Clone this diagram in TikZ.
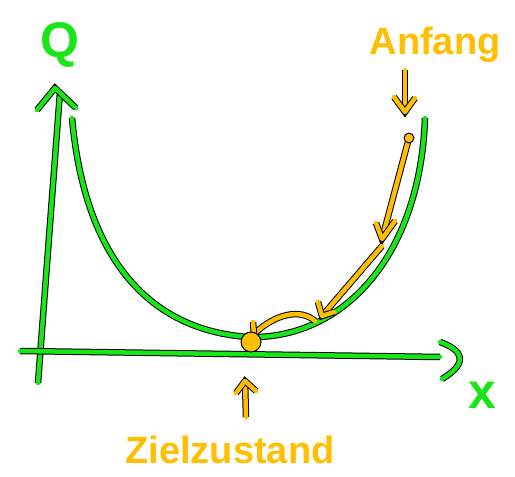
\documentclass[tikz,border=0pt]{standalone}
\usepackage{fontspec}
\setmainfont{Liberation Sans}
\definecolor{pgreen}{RGB}{24,230,24}
\definecolor{porange}{RGB}{255,190,0}
\begin{document}
\begin{tikzpicture}[x=1pt,y=-1pt,
  greenline/.style={line width=4.5pt,draw=pgreen,line cap=round,line join=round,
    preaction={draw=black,line width=6.5pt}},
  orangeline/.style={line width=4.5pt,draw=porange,line cap=round,line join=round,
    preaction={draw=black,line width=6.5pt}},
  lbl/.style={font=\bfseries\fontsize{38}{40}\selectfont,text=porange,inner sep=0pt},
  axlbl/.style={font=\bfseries\fontsize{50}{52}\selectfont,text=pgreen,inner sep=0pt}]
\useasboundingbox (0,0) rectangle (515,477);
% axes
\coordinate (ybot) at (38,383);
\coordinate (ytop) at (60,92);
\coordinate (xl) at (20,351);
\coordinate (xr) at (440,357);
\draw[greenline] (ybot) -- (ytop);
\draw[greenline] (37,110) -- (55,88) -- (76,108);
\draw[greenline] (xl) -- (xr);
\draw[greenline] (440,342) .. controls (462,350) and (470,362) .. (442,379);
\node[axlbl] (q) at (60,45) {Q};
\node[axlbl] (x) at (482,395) {x};
% curve
\draw[greenline] (72,118) .. controls (85,260) and (150,330) .. (248,337)
  .. controls (340,340) and (420,260) .. (425,118);
% orange path
\coordinate (s) at (409,138);
\coordinate (a1) at (382,239);
\coordinate (a2) at (322,316);
\coordinate (a3) at (254,334);
\coordinate (goal) at (251,342);
\draw[orangeline] (s) -- (a1);
\draw[orangeline] (376,223) -- (a1) -- (395,221);
\draw[orangeline] (382,246) -- (a2);
\draw[orangeline] (318,302) -- (a2) -- (334,312);
\draw[orangeline] (315,321) .. controls (300,308) and (275,314) .. (a3);
\draw[orangeline] (a3) -- (253,322);
\fill[black] (s) circle (5.5pt);
\fill[porange] (s) circle (4.3pt);
\fill[black] (goal) circle (10.5pt);
\fill[porange] (goal) circle (9.3pt);
% labels
\node[lbl] (anf) at (435,45) {Anfang};
\coordinate (ad1) at (405,70);
\coordinate (ad2) at (405,112);
\draw[orangeline] (ad1) -- (ad2);
\draw[orangeline] (394,97) -- (ad2) -- (415,98);
\node[lbl] (ziel) at (230,450) {Zielzustand};
\coordinate (zu1) at (246,417);
\coordinate (zu2) at (245,381);
\draw[orangeline] (zu1) -- (zu2);
\draw[orangeline] (236,393) -- (zu2) -- (256,391);
\end{tikzpicture}
\end{document}
